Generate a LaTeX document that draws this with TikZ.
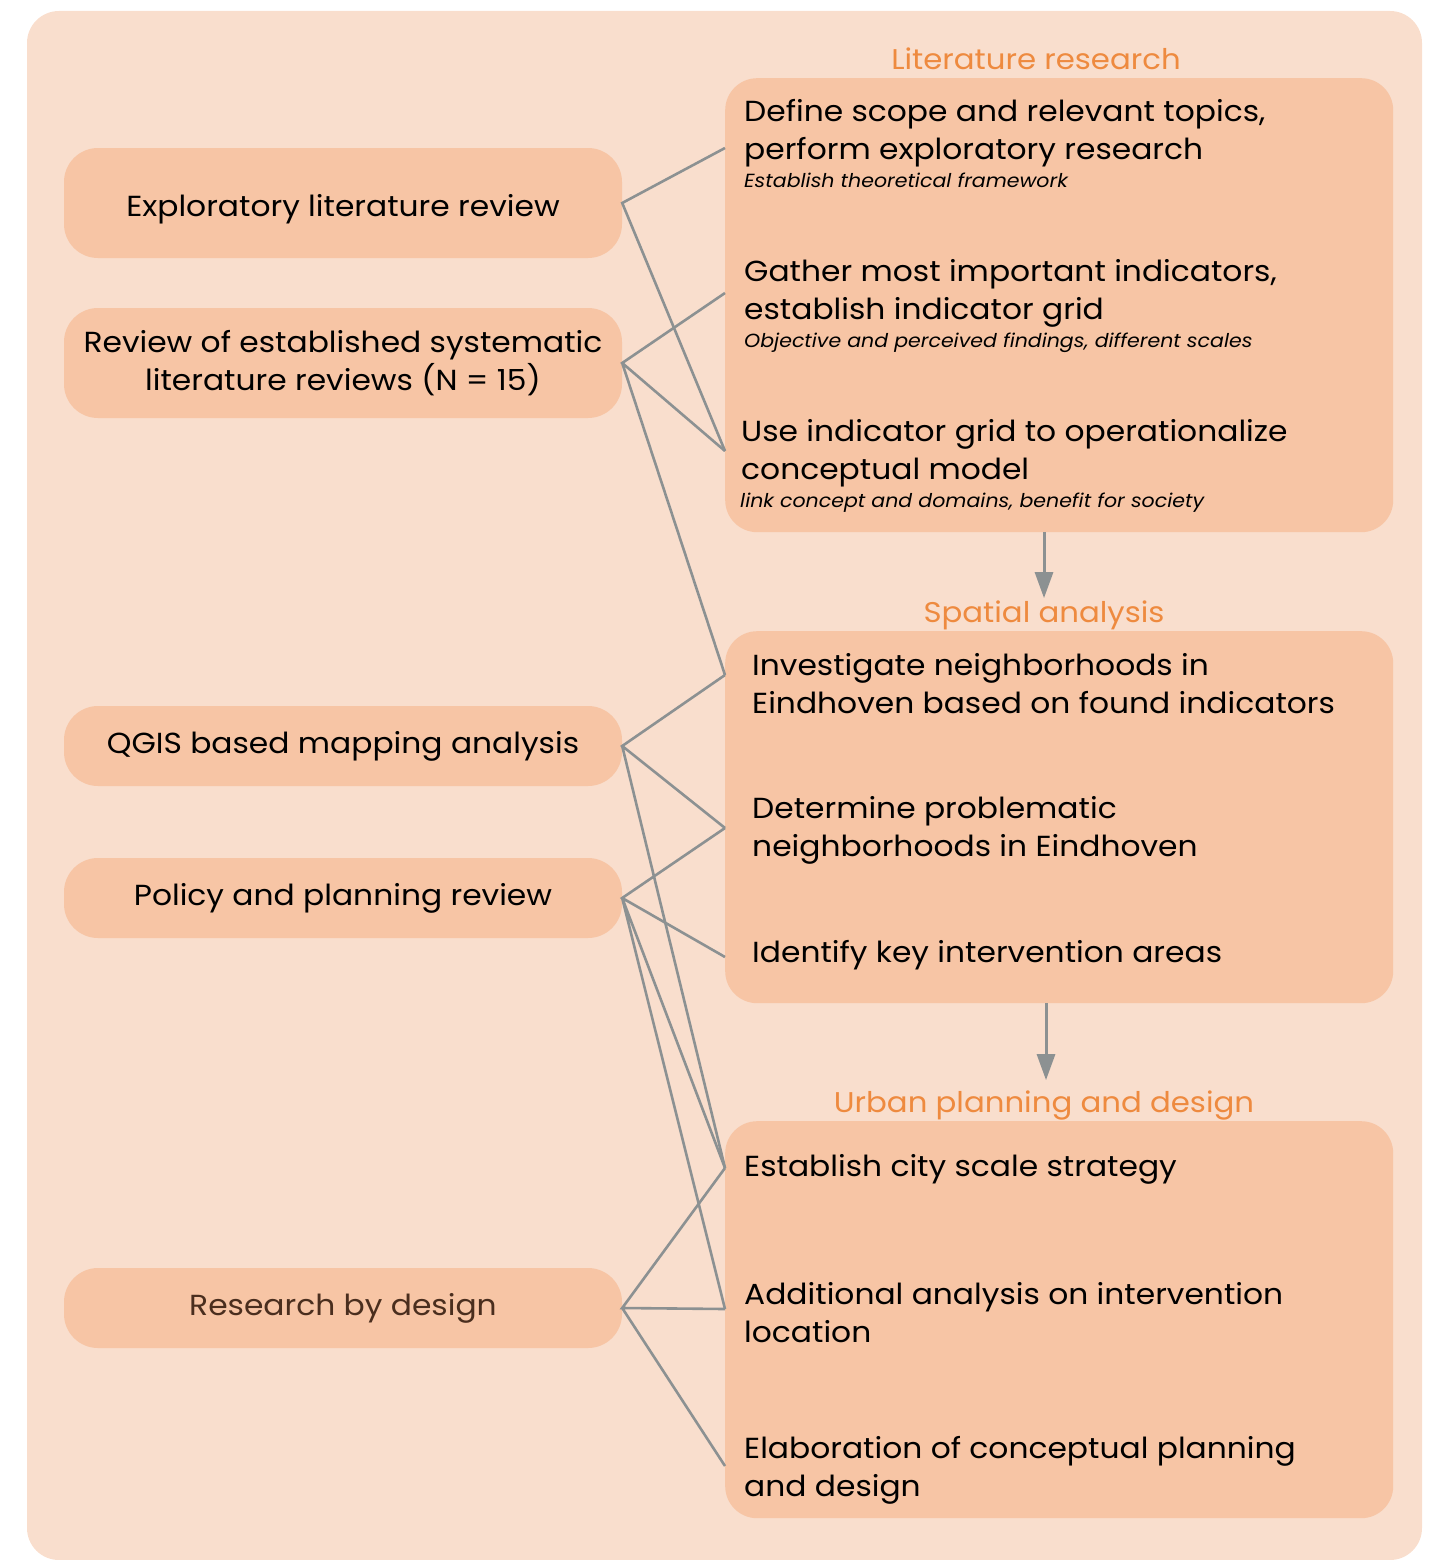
\documentclass[tikz,border=0pt]{standalone}
\usepackage{fontspec}
\setmainfont{Poppins}[FakeStretch=1.08]
\usetikzlibrary{arrows.meta}
\definecolor{bgpeach}{HTML}{F9DECD}
\definecolor{boxpeach}{HTML}{F7C5A5}
\definecolor{headorange}{HTML}{EE8A3F}
\definecolor{linkgray}{HTML}{8C9192}
\definecolor{darkbrown}{HTML}{4A2E1E}
\begin{document}
\begin{tikzpicture}[x=1pt, y=-1pt,
    src/.style={rectangle, fill=boxpeach, rounded corners=34pt, minimum width=558pt, minimum height=110pt, align=center, font=\fontsize{29}{38}\selectfont},
    panel/.style={rectangle, fill=boxpeach, rounded corners=32pt, minimum width=668pt, anchor=north west, inner sep=0pt},
    entry/.style={anchor=north west, align=left, inner sep=0pt, font=\fontsize{29}{38}\selectfont},
    note/.style={anchor=base west, inner sep=0pt, font=\fontsize{19}{20}\selectfont\itshape},
    head/.style={anchor=base, inner sep=0pt, text=headorange, font=\fontsize{28.5}{30}\selectfont},
    link/.style={draw=linkgray, line width=2.6pt},
    flow/.style={-{Triangle[width=18pt,length=26pt]}, draw=linkgray, fill=linkgray, line width=3pt}
]
    \useasboundingbox (0,0) rectangle (1430,1560);
    \fill[bgpeach, rounded corners=32pt] (27,11) rectangle (1422,1560);

    % panels on the right
    \node[panel, minimum height=454pt] (lit) at (725,78) {};
    \node[panel, minimum height=372pt] (spa) at (725,631) {};
    \node[panel, minimum height=397pt] (urb) at (725,1121) {};
    \node[head] (hlit) at (1036,70) {Literature research};
    \node[head] (hspa) at (1044,622) {Spatial analysis};
    \node[head] (hurb) at (1044,1112) {Urban planning and design};

    \node[entry] (e1) at (744,99)  {Define scope and relevant topics,\\perform exploratory research};
    \node[note]  (n1) at (744,187) {Establish theoretical framework};
    \node[entry] (e2) at (744,259) {Gather most important indicators,\\establish indicator grid};
    \node[note]  (n2) at (744,347) {Objective and perceived findings, different scales};
    \node[entry] (e3) at (741,419) {Use indicator grid to operationalize\\conceptual model};
    \node[note]  (n3) at (740,507) {link concept and domains, benefit for society};
    \node[entry] (e4) at (752,653) {Investigate neighborhoods in\\Eindhoven based on found indicators};
    \node[entry] (e5) at (752,796) {Determine problematic\\neighborhoods in Eindhoven};
    \node[entry] (e6) at (752,940) {Identify key intervention areas};
    \node[entry] (e7) at (744,1154) {Establish city scale strategy};
    \node[entry] (e8) at (744,1282) {Additional analysis on intervention\\location};
    \node[entry] (e9) at (744,1436) {Elaboration of conceptual planning\\and design};

    % methods on the left
    \node[src, text height=33pt, text depth=6pt] (l1) at (343,203) {Exploratory literature review};
    \node[src] (l2) at (343,363) {Review of established systematic\\literature reviews (N = 15)};
    \node[src, minimum height=80pt] (l3) at (343,746) {QGIS based mapping analysis};
    \node[src, minimum height=80pt] (l4) at (343,898) {Policy and planning review};
    \node[src, minimum height=80pt, text=darkbrown] (l5) at (343,1308) {Research by design};

    \coordinate (r1) at (725,148);
    \coordinate (r2) at (725,293);
    \coordinate (r3) at (725,451);
    \coordinate (s1) at (725,675);
    \coordinate (s2) at (725,828);
    \coordinate (s3) at (725,957);
    \coordinate (u1) at (725,1168);
    \coordinate (u2) at (725,1309);
    \coordinate (u3) at (725,1466);

    \draw[link] (r1) -- (l1.east) -- (r3);
    \draw[link] (r2) -- (l2.east) -- (r3) (l2.east) -- (s1);
    \draw[link] (s1) -- (l3.east) -- (s2) (l3.east) -- (u1);
    \draw[link] (s2) -- (l4.east) -- (s3) (l4.east) -- (u1) (l4.east) -- (u2);
    \draw[link] (u1) -- (l5.east) -- (u2) (l5.east) -- (u3);

    \draw[flow] (lit.south -| hspa) -- ([yshift=2pt]hspa.north);
    \draw[flow] ([xshift=2pt]spa.south -| hspa) -- ([xshift=2pt, yshift=10pt]hurb.north);
\end{tikzpicture}
\end{document}
